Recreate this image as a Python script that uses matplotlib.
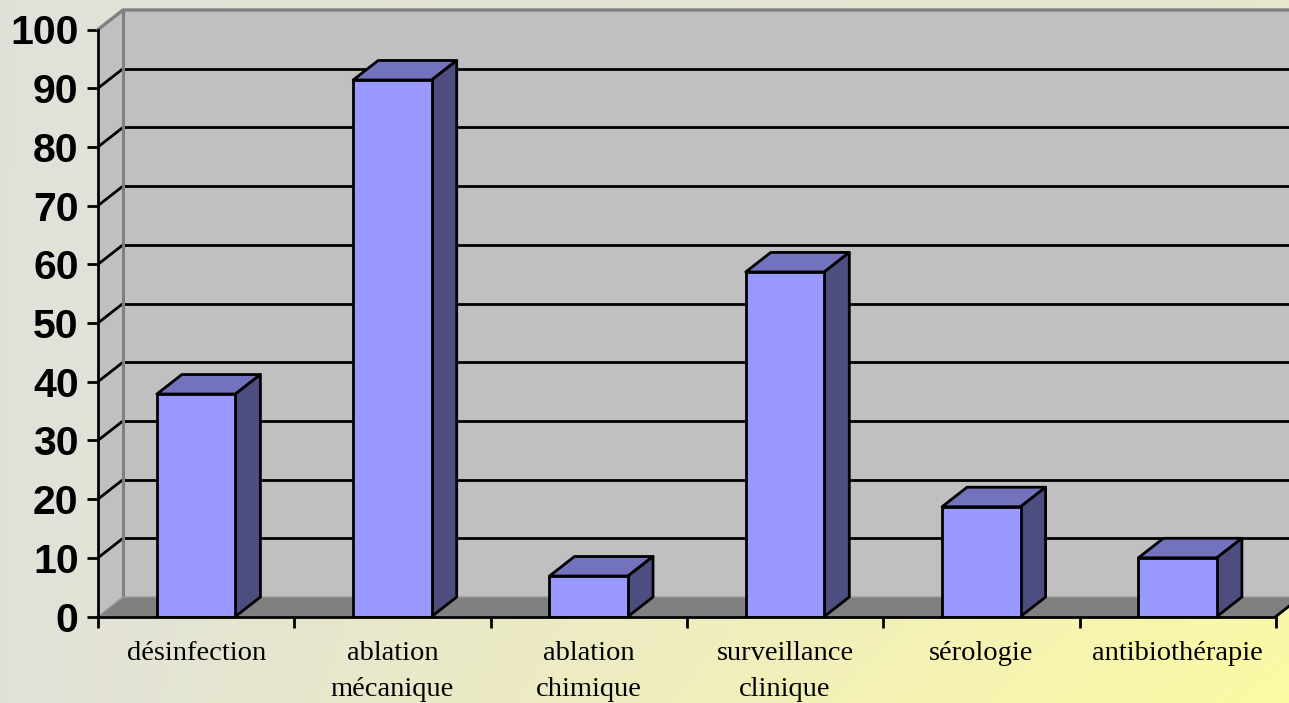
import matplotlib
matplotlib.use('Agg')
import matplotlib.pyplot as plt
import numpy as np
from matplotlib.patches import Polygon

categories = ['désinfection', 'ablation\nmécanique', 'ablation\nchimique',
              'surveillance\nclinique', 'sérologie', 'antibiothérapie']
values = [37.9, 91.4, 6.9, 58.7, 18.7, 10.0]
yticks = list(range(0, 101, 10))

W, H = 1289, 703
fig = plt.figure(figsize=(W / 100, H / 100), dpi=100)

# background: grey on the left fading to pale yellow at bottom right
yy, xx = np.mgrid[0:1:200j, 0:1:400j]
t = xx * (0.25 + 0.75 * yy)
grey = np.array([0.882, 0.882, 0.855])
yellow = np.array([0.99, 0.98, 0.64])
img = grey[None, None, :] * (1 - t[..., None]) + yellow[None, None, :] * t[..., None]
bg = fig.add_axes([0, 0, 1, 1], zorder=-1)
bg.imshow(img, aspect='auto', extent=(0, 1, 0, 1), origin='upper')
bg.axis('off')

# front plane: x 98..1276 px, y=0 at 616.5 px, 5.87 px per unit
px_x = 196.3
px_y = 5.87
x0_px, y0_px = 98, 616.5
ax = fig.add_axes([x0_px / W, (H - y0_px) / H, (W - x0_px) / W, y0_px / H])
ax.set_xlim(0, (W - x0_px) / px_x)
ax.set_ylim(0, y0_px / px_y)
ax.patch.set_visible(False)
xmax = ax.get_xlim()[1]

n = len(categories)
dx = 25 / px_x
dy = 19.5 / px_y
wall = '#c0c0c0'
edge_grey = '#808080'
lw = 2.0

# back wall, side wall, floor
ax.add_patch(Polygon([(dx, dy), (xmax + 1, dy), (xmax + 1, 100 + dy), (dx, 100 + dy)],
                     closed=True, facecolor=wall, edgecolor='none', zorder=1))
ax.add_patch(Polygon([(0, 0), (dx, dy), (dx, 100 + dy), (0, 100)],
                     closed=True, facecolor=wall, edgecolor='none', zorder=1))
for v in yticks[1:-1]:
    ax.plot([dx, xmax + 1], [v + dy, v + dy], color='black', lw=lw, zorder=2,
            solid_capstyle='butt')
    ax.plot([0, dx], [v, v + dy], color='black', lw=lw, zorder=2)
ax.plot([dx, dx], [dy, 100 + dy], color=edge_grey, lw=2.2, zorder=2)
ax.plot([0, dx, xmax + 1], [100, 100 + dy, 100 + dy], color=edge_grey, lw=2.4,
        zorder=2, clip_on=False)
ax.add_patch(Polygon([(0, 0), (n, 0), (n + dx, dy), (dx, dy)],
                     closed=True, facecolor='#808080', edgecolor='#999999',
                     lw=1, zorder=3))
ax.plot([n, n + dx], [0, dy], color='black', lw=lw, zorder=3)

# bars: front face + top and right side faces
centers = np.arange(n) + 0.5
bw = 0.40
ax.bar(centers, values, width=bw, color='#9999ff', edgecolor='black',
       linewidth=lw, zorder=5)
for c, v in zip(centers, values):
    xl, xr = c - bw / 2, c + bw / 2
    ax.add_patch(Polygon([(xl, v), (xr, v), (xr + dx, v + dy), (xl + dx, v + dy)],
                         closed=True, facecolor='#7373bd', edgecolor='black',
                         lw=lw, zorder=4, joinstyle='round'))
    ax.add_patch(Polygon([(xr, 0), (xr + dx, dy), (xr + dx, v + dy), (xr, v)],
                         closed=True, facecolor='#4d4d80', edgecolor='black',
                         lw=lw, zorder=4, joinstyle='round'))

# axes
for side in ['top', 'right']:
    ax.spines[side].set_visible(False)
ax.spines['left'].set_bounds(0, 100)
ax.spines['bottom'].set_bounds(0, n)
for side in ['left', 'bottom']:
    ax.spines[side].set_linewidth(lw)
    ax.spines[side].set_zorder(6)
ax.set_yticks(yticks)
ax.set_yticklabels([str(v) for v in yticks], fontsize=29.5, fontweight='bold',
                   family='Liberation Sans')
ax.tick_params(axis='y', length=8, width=lw, pad=6)
ax.set_xticks(np.arange(n + 1))
ax.set_xticklabels([])
ax.tick_params(axis='x', which='major', length=8, width=lw)
ax.set_xticks(centers, minor=True)
ax.set_xticklabels(categories, minor=True, fontsize=20.5, family='Liberation Serif',
                   linespacing=1.55)
ax.tick_params(axis='x', which='minor', length=0, pad=18)

fig.savefig('out.png', dpi=100)
